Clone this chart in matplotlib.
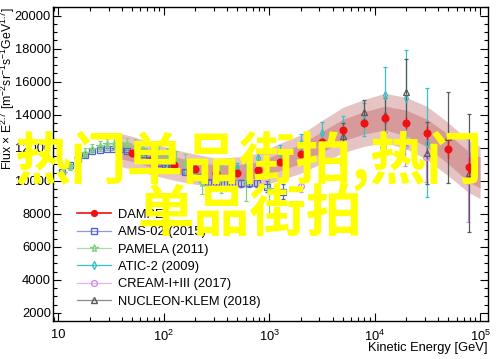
import numpy as np
import matplotlib
matplotlib.use("Agg")
import matplotlib.pyplot as plt
from matplotlib.ticker import LogLocator, MultipleLocator, FixedLocator, NullFormatter
from matplotlib.lines import Line2D

# ---------------- data ----------------
dampe_E = [49.9, 79.3, 125.7, 199.1, 315.5, 499.7, 791.5, 1254, 1986, 3147,
           4986, 7900, 12516, 19830, 31415, 49773, 78857]
dampe_F = [11700, 11300, 10960, 10700, 10470, 10500, 10650, 11140, 11620, 12350,
           13070, 13500, 13800, 13500, 12890, 11920, 10840]
dampe_err = [60, 60, 60, 60, 70, 80, 90, 100, 120, 150, 180, 220, 280, 340, 420, 520, 600]

band_E = [40, 49.9, 79.3, 125.7, 199.1, 315.5, 499.7, 791.5, 1254, 1986, 3147,
          4986, 7900, 12516, 19830, 31415, 49773, 78857, 100000]
band_C = [11850, 11700, 11300, 10960, 10700, 10470, 10500, 10650, 11140, 11620, 12350,
          13070, 13500, 13800, 13500, 12890, 11920, 10840, 10500]
inner_rel = [0.045, 0.045, 0.045, 0.045, 0.045, 0.045, 0.045, 0.045, 0.048, 0.05, 0.05,
             0.05, 0.05, 0.052, 0.058, 0.065, 0.075, 0.085, 0.09]
outer_rel = [0.085, 0.085, 0.085, 0.085, 0.085, 0.085, 0.09, 0.095, 0.1, 0.1, 0.105,
             0.105, 0.105, 0.108, 0.115, 0.125, 0.135, 0.145, 0.15]

ams_E = [10.9, 13.0, 15.5, 18.0, 21.0, 25.0, 29.1, 33.2, 38.7, 45.1, 53.7, 64.0, 74.5,
         88.7, 103, 120, 160, 222, 264, 315, 374, 446, 543, 646, 770, 957, 1360]
ams_F = [10530, 10950, 11300, 11580, 11780, 11880, 11920, 11930, 11900, 11830, 11680,
         11480, 11280, 11080, 10900, 10750, 10560, 10230, 9900, 9870, 9860, 9860, 9850,
         9860, 9880, 9650, 9350]
ams_err = [60, 60, 60, 60, 60, 60, 60, 60, 60, 60, 60, 70, 70, 80, 80, 90, 100, 120,
           130, 140, 160, 180, 200, 230, 270, 330, 450]

pam_E = [11, 13, 15.5, 18, 21, 25, 29, 34, 39, 45, 53, 64, 75, 90, 107, 130, 160, 232, 350, 600, 1000]
pam_F = [10450, 10900, 11350, 11700, 11950, 12100, 12200, 12250, 12250, 12200, 12100,
         11950, 11800, 11600, 11400, 11200, 11000, 9870, 10100, 9900, 9500]
pam_err = [250, 260, 270, 290, 300, 320, 340, 360, 380, 400, 420, 450, 480, 520, 560,
           600, 650, 700, 850, 1100, 1500]

atic_E = [79.3, 125.7, 199.1, 315.5, 499.7, 791.5, 1254, 1986, 3147, 4986, 7900,
          12516, 19830, 31415]
atic_F = [11200, 10900, 10700, 10600, 10800, 11380, 11740, 12290, 12890, 13100, 13700,
          15180, 15000, 12290]
atic_err = [200, 200, 220, 250, 300, 350, 450, 550, 650, 800, 1000, 1700, 2900, 3300]

cream_E = [1986, 4986, 12000, 19500, 31000, 77000]
cream_F = [9700, 11000, 12050, 12100, 11450, 10000]
cream_err = [400, 500, 900, 1200, 1500, 2500]

nuc_E = [4986, 7900, 12600, 19800, 31400, 49700, 78800]
nuc_F = [12700, 14170, 13980, 15360, 11680, 12640, 10470]
nuc_err = [800, 750, 1030, 2000, 1850, 2750, 3600]

legend_labels = ["DAMPE", "AMS-02 (2015)", "PAMELA (2011)", "ATIC-2 (2009)",
                 "CREAM-I+III (2017)", "NUCLEON-KLEM (2018)"]
watermark_1 = "热门单品街拍,热门"
watermark_2 = "单品街拍"

# ---------------- plot ----------------
plt.rcParams['font.family'] = ['Liberation Sans', 'DejaVu Sans']
plt.rcParams['mathtext.fontset'] = 'custom'
plt.rcParams['mathtext.rm'] = 'Liberation Sans'
plt.rcParams['mathtext.it'] = 'Liberation Sans:italic'
fig = plt.figure(figsize=(5.0, 3.59), dpi=100)
ax = fig.add_axes([0.106, 0.106, 0.870, 0.8745])

bE = np.array(band_E); bC = np.array(band_C)
ir = np.array(inner_rel); orr = np.array(outer_rel)
ax.fill_between(bE, bC * (1 - orr), bC * (1 + orr), color='#e6c4c4', lw=0, zorder=1)
ax.fill_between(bE, bC * (1 - ir), bC * (1 + ir), color='#d69a9a', lw=0, zorder=2)

ms = 4.2
common = dict(capsize=1.5, elinewidth=0.9, capthick=0.9, linestyle='none', zorder=3)
ax.errorbar(ams_E, ams_F, yerr=ams_err, fmt='s', color='#5563cc', mfc='none',
            ms=ms, mew=0.9, **common)
ax.errorbar(pam_E, pam_F, yerr=pam_err, fmt='*', color='#80d080', mfc='none',
            ms=ms + 1.5, mew=0.8, **common)
ax.errorbar(atic_E, atic_F, yerr=atic_err, fmt='d', color='#3cc0c4', mfc='none',
            ms=ms, mew=0.9, **common)
ax.errorbar(cream_E, cream_F, yerr=cream_err, fmt='o', color='#cc8ee8', mfc='none',
            ms=ms, mew=0.9, **common)
ax.errorbar(nuc_E, nuc_F, yerr=nuc_err, fmt='^', color='#5a5a5a', mfc='none',
            ms=ms, mew=0.9, **common)
ax.errorbar(dampe_E, dampe_F, yerr=dampe_err, fmt='o', color='#ee1111',
            ms=ms + 0.7, mew=0.9, capsize=0, elinewidth=1.0, linestyle='none', zorder=5)

handles = [
    Line2D([], [], color='#ee1111', marker='o', ms=ms, lw=1.2),
    Line2D([], [], color='#8f98dd', marker='s', ms=ms, mfc='none', mec='#5563cc', lw=0.9),
    Line2D([], [], color='#a8dca8', marker='*', ms=ms + 1.5, mfc='none', mec='#80d080', lw=0.9),
    Line2D([], [], color='#3cc0c4', marker='d', ms=ms, mfc='none', lw=0.9),
    Line2D([], [], color='#e0b4f0', marker='o', ms=ms, mfc='none', mec='#cc8ee8', lw=0.9),
    Line2D([], [], color='#8a8a8a', marker='^', ms=ms, mfc='none', mec='#5a5a5a', lw=0.9),
]
ax.legend(handles, legend_labels, loc='upper left', bbox_to_anchor=(0.055, 0.357),
          frameon=False, fontsize=9.3, handlelength=2.6, handletextpad=0.55,
          labelspacing=0.41, borderpad=0, borderaxespad=0)

ax.set_xscale('log')
ax.set_xlim(8.9, 1.19e5)
ax.set_ylim(1515, 20520)
ax.xaxis.set_major_locator(FixedLocator([10, 100, 1000, 1e4, 1e5]))
ax.set_xticklabels(['10', r'$10^2$', r'$10^3$', r'$10^4$', r'$10^5$'])
ax.xaxis.set_minor_locator(LogLocator(base=10, subs=np.arange(2, 10), numticks=20))
ax.xaxis.set_minor_formatter(NullFormatter())
ax.yaxis.set_major_locator(MultipleLocator(2000))
ax.yaxis.set_minor_locator(MultipleLocator(500))
ax.tick_params(which='both', direction='in', top=True, right=True, labelsize=9.3, width=0.8)
ax.tick_params(which='major', length=6)
ax.tick_params(which='minor', length=3)
ax.tick_params(axis='x', pad=5.5)
ax.tick_params(axis='y', pad=1.5)
for s in ax.spines.values():
    s.set_linewidth(1.0)

ax.set_xlabel('Kinetic Energy [GeV]', fontsize=9.3, loc='right')
ax.xaxis.set_label_coords(1.0, -0.066)
ax.xaxis.label.set_va('top')
ax.set_ylabel(r'Flux $\times$ E$^{2.7}$ [m$^{-2}$sr$^{-1}$s$^{-1}$GeV$^{1.7}$]',
              fontsize=8.8, loc='top')
ax.yaxis.set_label_coords(-0.083, 1.0)

wm = dict(ha='center', va='center', fontsize=40.5, fontweight='bold', color='#ffff00',
          family=['Noto Sans CJK SC', 'DejaVu Sans'], zorder=10)
fig.text(248 / 500, 1 - 161 / 359, watermark_1, **wm)
fig.text(250 / 500, 1 - 214 / 359, watermark_2, **wm)

fig.savefig('out.png', dpi=100)
